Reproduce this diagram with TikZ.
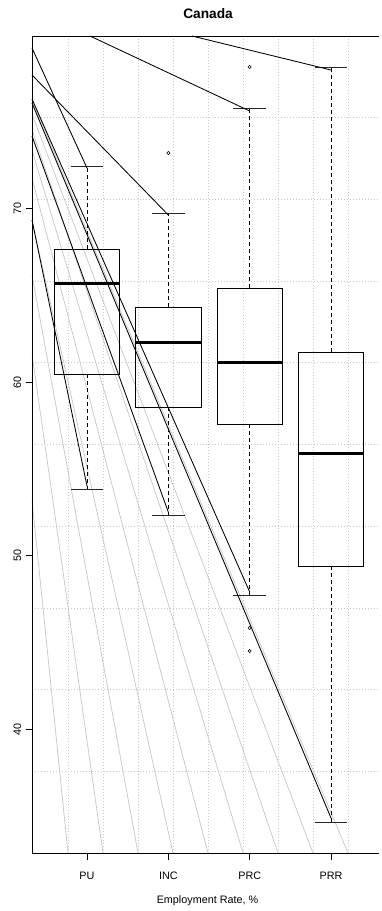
\documentclass[tikz,border=0pt]{standalone}
\usepackage{fontspec}
\setmainfont{Liberation Sans}
\begin{document}
\begin{tikzpicture}[x=1pt,y=-1pt,
  gridl/.style={draw=black!22, dash pattern=on 1pt off 2pt, line width=0.7pt},
  greyl/.style={draw=black!22, line width=0.7pt},
  blackl/.style={draw=black, line width=0.85pt},
  boxs/.style={draw=black, line width=0.85pt},
  med/.style={draw=black, line width=3pt},
  whisk/.style={draw=black, line width=0.85pt, dash pattern=on 4pt off 3pt},
  capl/.style={draw=black!85, line width=0.85pt},
  outl/.style={draw=black, line width=0.55pt},
  framel/.style={draw=black, line width=0.9pt},
  lab/.style={font=\fontsize{10.8}{12}\selectfont, inner sep=0pt}]
\useasboundingbox (0,0) rectangle (381,911);
\fill[white] (0,0) rectangle (381,911);

% vertical grid lines
\foreach \k in {1,...,9} \draw[gridl] ({33+35*\k},36) -- ({33+35*\k},853);
% horizontal grid lines
\foreach \k in {1,...,9} \draw[gridl] (32,{36+81.7*\k}) -- (379,{36+81.7*\k});
% grey fan lines
\foreach \yy/\xx in {500/68, 354/103, 275/138, 220/173, 178/208, 150/243, 130/278, 114/313, 100/348}
  \draw[greyl] (32,\yy) -- (\xx,853);

% box data: center, box top, median, box bottom, upper cap, lower cap
\foreach \c/\bt/\md/\bb/\uc/\lc in {87/249/283/374/166/489, 168.3/307/342/407/213/515, 249.7/288/362/424/108/595, 331/352/453/566/67/822}{
  \draw[whisk] (\c,\bt) -- (\c,\uc);
  \draw[whisk] (\c,\bb) -- (\c,\lc);
  \draw[capl] ({\c-16.3},\uc) -- ({\c+16.3},\uc);
  \draw[capl] ({\c-16.3},\lc) -- ({\c+16.3},\lc);
  \draw[boxs] ({\c-32.7},\bt) rectangle ({\c+32.7},\bb);
  \draw[med] ({\c-32.7},\md) -- ({\c+32.7},\md);
}

% outliers
\foreach \c/\v in {168.3/153, 249.7/67, 249.7/628, 249.7/651}
  \draw[outl] (\c,\v) circle (1.6pt);

% black connector lines
\coordinate (s1) at (32,48);   \coordinate (e1) at (87,168);
\coordinate (s2) at (32,75);   \coordinate (e2) at (168.3,215);
\coordinate (s3) at (90,36);   \coordinate (e3) at (249.7,111);
\coordinate (s4) at (192,36);  \coordinate (e4) at (331,70);
\coordinate (s5) at (32,220);  \coordinate (e5) at (87,486);
\coordinate (s6) at (32,136);  \coordinate (e6) at (168.3,512);
\coordinate (s7) at (32,99);   \coordinate (e7) at (249.7,592);
\coordinate (s8) at (32,103);  \coordinate (e8) at (331,818);
\foreach \i in {1,...,8} \draw[blackl] (s\i) -- (e\i);

% frame
\draw[framel] (379,36) -- (32,36) -- (32,853) -- (379,853);

% y axis ticks and labels
\foreach \v/\y in {40/729, 50/555.7, 60/382, 70/208}{
  \draw[framel] (26,\y) -- (32,\y);
  \node[lab, rotate=90] at (17.5,\y) {\v};
}
% x axis ticks and labels
\foreach \c/\t in {87/PU, 168.3/INC, 249.7/PRC, 331/PRR}{
  \draw[framel] (\c,853) -- (\c,860);
  \node[lab] at (\c,876) {\t};
}
\node[lab] (xlab) at (207.5,901) {Employment Rate, \%};
\node[font=\bfseries\fontsize{13.7}{15}\selectfont, inner sep=0pt] (title) at (208,13.5) {Canada};
\end{tikzpicture}
\end{document}
